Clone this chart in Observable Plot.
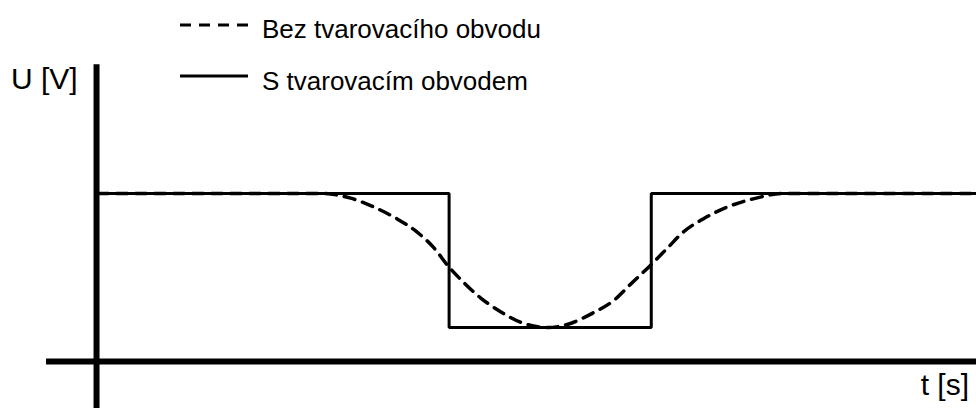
<!DOCTYPE html>
<html>
<head>
<meta charset="utf-8">
<script src="https://cdn.jsdelivr.net/npm/d3@7"></script>
<script src="https://cdn.jsdelivr.net/npm/@observablehq/plot@0.6"></script>
<style>
  html, body { margin: 0; padding: 0; background: #fff; }
  #chart { position: relative; width: 976px; height: 408px; }
</style>
</head>
<body>
<div id="chart"></div>
<script>
// Series: "Bez tvarovacího obvodu" (dashed)
const dashedT = [0, 2.55, 2.88, 3.14, 3.41, 3.64, 3.82, 4.00, 4.16, 4.36, 4.58, 4.81, 5.12, 5.38, 5.64, 5.87, 6.06, 6.30, 6.48, 6.66, 6.89, 7.17, 7.46, 7.80, 10];
const dashedU = [1, 1, 0.965, 0.90, 0.81, 0.71, 0.60, 0.45, 0.34, 0.22, 0.12, 0.04, 0, 0.03, 0.11, 0.20, 0.32, 0.47, 0.59, 0.71, 0.81, 0.90, 0.96, 1, 1];
// Series: "S tvarovacím obvodem" (solid step)
const solidT = [0, 4, 4, 6.3, 6.3, 10];
const solidU = [1, 1, 0, 0, 1, 1];
// Labels
const seriesNames = ["Bez tvarovacího obvodu", "S tvarovacím obvodem"];
const yLabel = "U [V]";
const xLabel = "t [s]";
// Axis extents (data units)
const xAxisAt = -0.254, xAxisFrom = -0.58, xAxisTo = 10;
const yAxisAt = -0.011, yAxisFrom = -0.61, yAxisTo = 1.96;

const dashed = dashedT.map((t, i) => ({t, u: dashedU[i]}));
const solid = solidT.map((t, i) => ({t, u: solidU[i]}));

const plot = Plot.plot({
  width: 976,
  height: 408,
  margin: 0,
  x: {domain: [0, 10], range: [97, 976], axis: null},
  y: {domain: [0, 1], range: [327, 193], axis: null},
  marks: [
    Plot.ruleY([xAxisAt], {x1: xAxisFrom, x2: xAxisTo, stroke: "black", strokeWidth: 6}),
    Plot.ruleX([yAxisAt], {y1: yAxisFrom, y2: yAxisTo, stroke: "black", strokeWidth: 6}),
    Plot.line(dashed, {x: "t", y: "u", stroke: "black", strokeWidth: 3.5, strokeDasharray: "11,8", curve: "monotone-x"}),
    Plot.line(solid, {x: "t", y: "u", stroke: "black", strokeWidth: 3, strokeLinejoin: "miter"})
  ]
});
document.getElementById("chart").appendChild(plot);

// Legend and axis titles
const FONT = "'Liberation Sans', Arial, sans-serif";
const svg = d3.select(plot);
const legend = [
  {name: seriesNames[0], dash: "11,8", ly: 25, ty: 38},
  {name: seriesNames[1], dash: null, ly: 76, ty: 90}
];
legend.forEach(d => {
  svg.append("line").attr("x1", 180).attr("x2", 248).attr("y1", d.ly).attr("y2", d.ly)
    .attr("stroke", "black").attr("stroke-width", 3)
    .attr("stroke-dasharray", d.dash);
  svg.append("text").attr("x", 262).attr("y", d.ty)
    .style("font-family", FONT).style("font-size", "26px")
    .attr("text-anchor", "start").attr("fill", "black").text(d.name);
});
svg.append("text").attr("x", 11).attr("y", 89)
  .style("font-family", FONT).style("font-size", "30px")
  .attr("text-anchor", "start").attr("fill", "black").text(yLabel);
svg.append("text").attr("x", 969).attr("y", 395)
  .style("font-family", FONT).style("font-size", "30px")
  .attr("text-anchor", "end").attr("fill", "black").text(xLabel);
</script>
</body>
</html>
